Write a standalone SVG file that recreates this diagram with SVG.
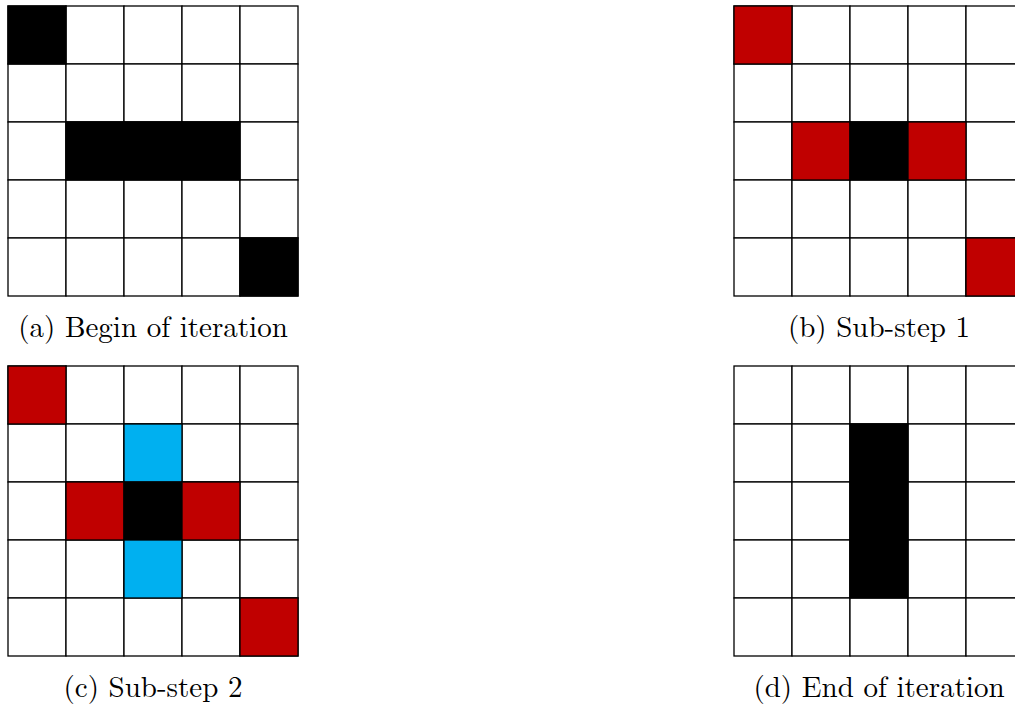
<svg xmlns="http://www.w3.org/2000/svg" width="1015" height="707" viewBox="0 0 1015 707">
<style>
.c{fill:#fff;stroke:#000;stroke-width:1.3}
.k{fill:#000;stroke:#000;stroke-width:1.3}
.r{fill:#C00000;stroke:#000;stroke-width:1.3}
.b{fill:#00B0F0;stroke:#000;stroke-width:1.3}
.t{font-family:"Latin Modern Roman","Liberation Serif","DejaVu Serif",serif;font-size:29px;fill:#000;text-anchor:middle}
</style>
<defs>
<g id="grid">
<rect class="c" x="0" y="0" width="58" height="58"/><rect class="c" x="58" y="0" width="58" height="58"/><rect class="c" x="116" y="0" width="58" height="58"/><rect class="c" x="174" y="0" width="58" height="58"/><rect class="c" x="232" y="0" width="58" height="58"/>
<rect class="c" x="0" y="58" width="58" height="58"/><rect class="c" x="58" y="58" width="58" height="58"/><rect class="c" x="116" y="58" width="58" height="58"/><rect class="c" x="174" y="58" width="58" height="58"/><rect class="c" x="232" y="58" width="58" height="58"/>
<rect class="c" x="0" y="116" width="58" height="58"/><rect class="c" x="58" y="116" width="58" height="58"/><rect class="c" x="116" y="116" width="58" height="58"/><rect class="c" x="174" y="116" width="58" height="58"/><rect class="c" x="232" y="116" width="58" height="58"/>
<rect class="c" x="0" y="174" width="58" height="58"/><rect class="c" x="58" y="174" width="58" height="58"/><rect class="c" x="116" y="174" width="58" height="58"/><rect class="c" x="174" y="174" width="58" height="58"/><rect class="c" x="232" y="174" width="58" height="58"/>
<rect class="c" x="0" y="232" width="58" height="58"/><rect class="c" x="58" y="232" width="58" height="58"/><rect class="c" x="116" y="232" width="58" height="58"/><rect class="c" x="174" y="232" width="58" height="58"/><rect class="c" x="232" y="232" width="58" height="58"/>
</g>
</defs>
<g id="panel-a" transform="translate(8,6)">
<use href="#grid"/>
<rect class="k" x="0" y="0" width="58" height="58"/>
<rect class="k" x="58" y="116" width="174" height="58"/>
<rect class="k" x="232" y="232" width="58" height="58"/>
<text class="t" x="145" y="331">(a) Begin of iteration</text>
</g>
<g id="panel-b" transform="translate(734,6)">
<use href="#grid"/>
<rect class="r" x="0" y="0" width="58" height="58"/>
<rect class="r" x="58" y="116" width="58" height="58"/>
<rect class="k" x="116" y="116" width="58" height="58"/>
<rect class="r" x="174" y="116" width="58" height="58"/>
<rect class="r" x="232" y="232" width="58" height="58"/>
<text class="t" x="145" y="331">(b) Sub-step 1</text>
</g>
<g id="panel-c" transform="translate(8,366)">
<use href="#grid"/>
<rect class="r" x="0" y="0" width="58" height="58"/>
<rect class="b" x="116" y="58" width="58" height="58"/>
<rect class="r" x="58" y="116" width="58" height="58"/>
<rect class="k" x="116" y="116" width="58" height="58"/>
<rect class="r" x="174" y="116" width="58" height="58"/>
<rect class="b" x="116" y="174" width="58" height="58"/>
<rect class="r" x="232" y="232" width="58" height="58"/>
<text class="t" x="145" y="331">(c) Sub-step 2</text>
</g>
<g id="panel-d" transform="translate(734,366)">
<use href="#grid"/>
<rect class="k" x="116" y="58" width="58" height="174"/>
<text class="t" x="145" y="331">(d) End of iteration</text>
</g>
</svg>
